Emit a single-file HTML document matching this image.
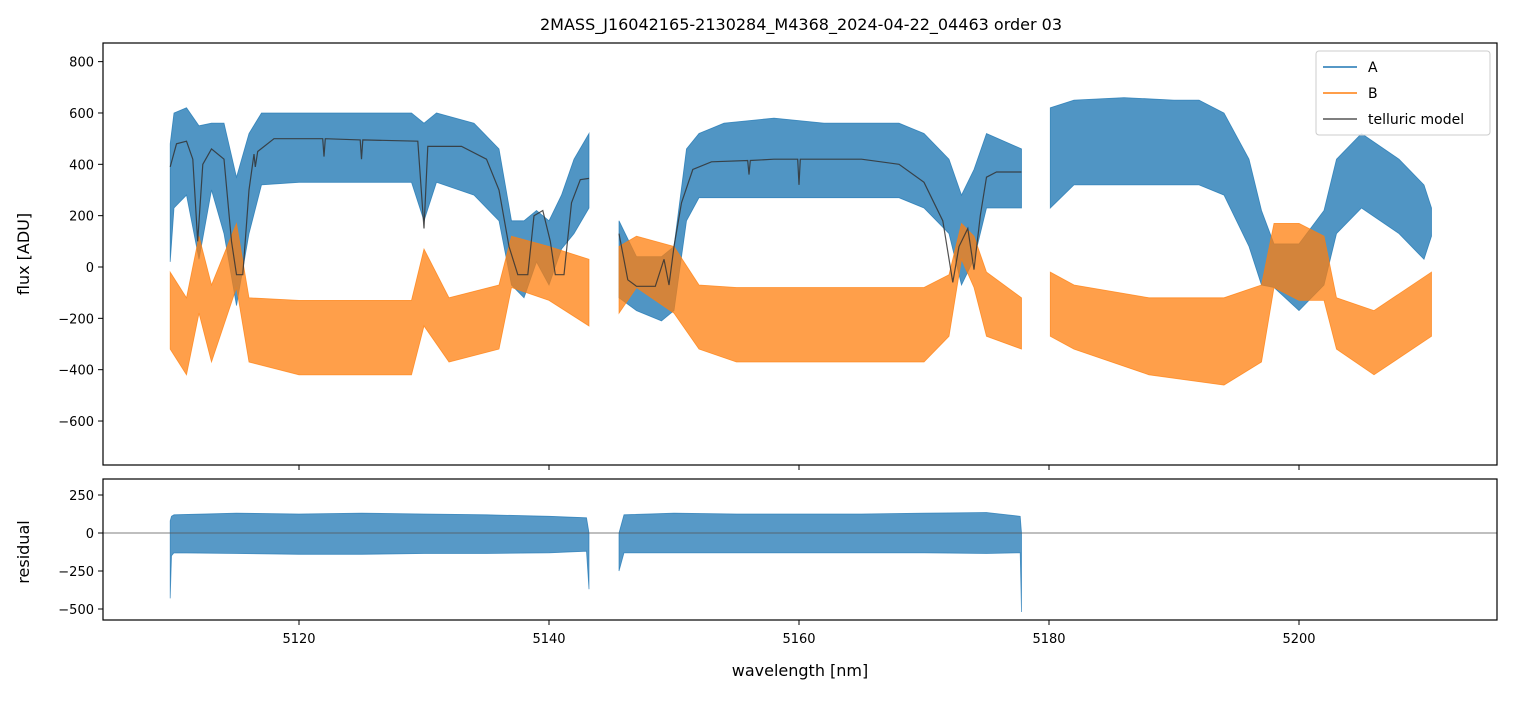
<!DOCTYPE html>
<html><head><meta charset="utf-8"><style>
body{margin:0;background:#fff;font-family:"Liberation Sans",sans-serif}
svg text{font-family:"DejaVu Sans","Liberation Sans",sans-serif}
</style></head><body>
<svg id="c" width="1513" height="696" xmlns="http://www.w3.org/2000/svg"></svg>
<script>
// ---- data (bands are envelope estimates of noisy spectra) ----
const segA_w = [[5109.7,5110,5111,5112,5113,5114,5115,5116,5117,5120,5125,5129,5130,5131,5134,5136,5137,5138,5139,5140,5141,5142,5143.2],
[5145.6,5147,5149,5150,5151,5152,5154,5158,5162,5166,5168,5170,5172,5173,5174,5175,5177.8],
[5180.1,5182,5186,5190,5192,5194,5196,5197,5198,5200,5202,5203,5205,5208,5210,5210.6]];
const segA_hi = [[480,600,620,550,560,560,350,520,600,600,600,600,560,600,560,460,180,180,220,180,280,420,520],
[180,40,40,80,460,520,560,580,560,560,560,520,420,280,380,520,460],
[620,650,660,650,650,600,420,220,90,90,220,420,520,420,320,230]];
const segA_lo = [[20,230,280,30,300,130,-150,130,320,330,330,330,180,330,280,180,-70,-120,20,-70,70,130,230],
[-120,-170,-210,-170,180,270,270,270,270,270,270,230,130,-70,30,230,230],
[230,320,320,320,320,280,80,-70,-80,-170,-70,130,230,130,30,120]];
const segB_w = [[5109.7,5111,5112,5113,5115,5116,5120,5125,5129,5130,5132,5136,5137,5140,5143.2],
[5145.6,5147,5150,5152,5155,5160,5165,5170,5172,5173,5174,5175,5177.8],
[5180.1,5182,5188,5194,5197,5198,5200,5202,5203,5206,5210.6]];
const segB_hi = [[-20,-120,120,-70,170,-120,-130,-130,-130,70,-120,-70,120,80,30],
[80,120,80,-70,-80,-80,-80,-80,-30,170,120,-20,-120],
[-20,-70,-120,-120,-70,170,170,120,-120,-170,-20]];
const segB_lo = [[-320,-420,-180,-370,-80,-370,-420,-420,-420,-230,-370,-320,-80,-130,-230],
[-180,-80,-180,-320,-370,-370,-370,-370,-270,30,-80,-270,-320],
[-270,-320,-420,-460,-370,-80,-130,-130,-320,-420,-270]];
const tel_w = [[5109.7,5110.2,5111,5111.5,5111.9,5112.3,5113,5114,5114.6,5115,5115.5,5116,5116.4,5116.5,5116.7,5118,5121.9,5122,5122.1,5124.9,5125,5125.1,5129.5,5130,5130.3,5133,5135,5136,5136.8,5137.5,5138.3,5138.8,5139.5,5140.1,5140.5,5141.2,5141.8,5142.5,5143.2],
[5145.6,5146.3,5147,5148.5,5149.2,5149.6,5150,5150.6,5151.5,5153,5155.9,5156,5156.1,5158,5159.9,5160,5160.1,5162,5165,5168,5170,5171.5,5172.3,5172.8,5173.5,5174,5174.5,5175,5175.8,5177.8]];
const tel_v = [[390,480,490,420,100,400,460,420,100,-30,-30,300,440,390,450,500,500,430,500,495,420,495,490,150,470,470,420,300,80,-30,-30,200,220,100,-30,-30,250,340,345],
[130,-50,-75,-75,30,-70,80,250,380,410,415,360,415,420,420,320,420,420,420,400,330,180,-60,80,150,-10,200,350,370,370]];
const res_w = [[5109.7,5109.8,5110,5115,5120,5125,5130,5135,5140,5143,5143.2],[5145.6,5146,5150,5155,5160,5165,5170,5175,5177.7,5177.8]];
const res_hi = [[80,110,120,130,125,130,125,120,110,100,0],[0,120,130,125,125,125,130,135,110,0]];
const res_lo = [[-430,-150,-130,-135,-140,-140,-135,-135,-130,-120,-370],[-250,-130,-130,-130,-130,-130,-130,-135,-130,-520]];
const xTicks=[5120,5140,5160,5180,5200];
const yTicks=[800,600,400,200,0,-200,-400,-600];
const rTicks=[250,0,-250,-500];

// ---- axes ----
const X=w=>299+(w-5120)*12.5;
const Y=v=>267-v*0.2567;
const R=v=>533-v*0.152;
const svg=document.getElementById('c');
const NS='http://www.w3.org/2000/svg';
function el(t,a,p){const e=document.createElementNS(NS,t);for(const k in a)e.setAttribute(k,a[k]);(p||svg).appendChild(e);return e;}
function band(ws,hi,lo,fy,color,op,name){
  let d='';
  for(let s=0;s<ws.length;s++){
    const w=ws[s];let pts=w.map((x,i)=>X(x).toFixed(1)+','+fy(hi[s][i]).toFixed(1));
    for(let i=w.length-1;i>=0;i--)pts.push(X(w[i]).toFixed(1)+','+fy(lo[s][i]).toFixed(1));
    d+='M'+pts.join('L')+'Z';
  }
  const p=el('path',{d:d,fill:color,'fill-opacity':op,stroke:color,'stroke-opacity':op,'stroke-width':0.8});
  
  
}
function txt(x,y,s,a,size,name,rot){const t=el('text',{x:x,y:y,'font-size':size,'text-anchor':a,fill:'#000'});if(rot)t.setAttribute('transform',rot);t.textContent=s;
  
  
  return t;}

txt(801,30,'2MASS_J16042165-2130284_M4368_2024-04-22_04463  order 03','middle',16,'chart-title');

// top panel
band(segA_w,segA_hi,segA_lo,Y,'#1f77b4',0.78,'series-a');
band(segB_w,segB_hi,segB_lo,Y,'#ff7f0e',0.75,'series-b');
let d='';
tel_w.forEach((w,s)=>{d+='M'+w.map((x,i)=>X(x).toFixed(1)+','+Y(tel_v[s][i]).toFixed(1)).join('L');});
const tl=el('path',{d:d,fill:'none',stroke:'#333',"stroke-opacity":0.85,'stroke-width':1.2});


const f1=el('rect',{x:103,y:43,width:1394,height:422,fill:'none',stroke:'#000','stroke-width':1.2});


yTicks.forEach(v=>{el('line',{x1:98,x2:103,y1:Y(v),y2:Y(v),stroke:'#000'});txt(94,Y(v)+5,v<0?'\u2212'+(-v):String(v),'end',13,'y-tick-label');});
xTicks.forEach(v=>{el('line',{x1:X(v),x2:X(v),y1:465,y2:470,stroke:'#000'});});
txt(29,254,'flux [ADU]','middle',16,'y-axis-title','rotate(-90 29 254)');

// legend
const lg=el('g',{});


el('rect',{x:1316,y:51,width:174,height:84,rx:3,fill:'#fff','fill-opacity':0.85,stroke:'#ccc'},lg);
[['A','#1f77b4',67],['B','#ff7f0e',93],['telluric model','#555',119]].forEach(([n,c,y])=>{
  el('line',{x1:1323,x2:1357,y1:y,y2:y,stroke:c,'stroke-width':1.6},lg);
  txt(1368,y+5,n,'start',14,'legend-entry');
});

// residual panel
band(res_w,res_hi,res_lo,R,'#1f77b4',0.75,'residual-series');
el('line',{x1:103,x2:1497,y1:R(0),y2:R(0),stroke:'#555','stroke-width':0.7});
const f2=el('rect',{x:103,y:479,width:1394,height:141,fill:'none',stroke:'#000','stroke-width':1.2});


rTicks.forEach(v=>{el('line',{x1:98,x2:103,y1:R(v),y2:R(v),stroke:'#000'});txt(94,R(v)+5,v<0?'\u2212'+(-v):String(v),'end',13,'residual-tick-label');});
xTicks.forEach(v=>{el('line',{x1:X(v),x2:X(v),y1:620,y2:625,stroke:'#000'});txt(X(v),643,String(v),'middle',13,'x-tick-label');});
txt(29,552,'residual','middle',16,'residual-axis-title','rotate(-90 29 552)');
txt(800,676,'wavelength [nm]','middle',16,'x-axis-title');
</script>
</body></html>
